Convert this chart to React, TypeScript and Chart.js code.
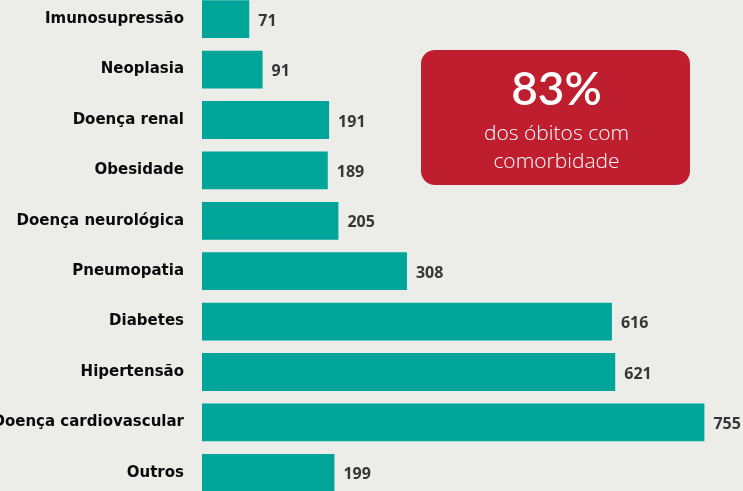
import React, { useEffect, useRef } from "react";
import { Chart, registerables } from "chart.js";

Chart.register(...registerables);

const categories = [
  "Imunosupressão",
  "Neoplasia",
  "Doença renal",
  "Obesidade",
  "Doença neurológica",
  "Pneumopatia",
  "Diabetes",
  "Hipertensão",
  "Doença cardiovascular",
  "Outros",
];
const values = [71, 91, 191, 189, 205, 308, 616, 621, 755, 199];
const boxTitle = "83%";
const boxLines = ["dos óbitos com", "comorbidade"];

const valueLabels = {
  id: "valueLabels",
  afterDatasetsDraw(chart: any) {
    const ctx = chart.ctx;
    const meta = chart.getDatasetMeta(0);
    ctx.save();
    ctx.fillStyle = "#363636";
    ctx.font = "bold 16px 'Open Sans'";
    ctx.textAlign = "left";
    ctx.textBaseline = "middle";
    meta.data.forEach((bar: any, i: number) => {
      ctx.fillText(String(values[i]), bar.x + 9, bar.y + 2);
    });
    ctx.restore();
  },
};

const infoBox = {
  id: "infoBox",
  afterDraw(chart: any) {
    const ctx = chart.ctx;
    const x = 421, y = 56, w = 269, h = 135, r = 14;
    ctx.save();
    ctx.fillStyle = "#be1e2e";
    ctx.beginPath();
    ctx.roundRect(x, y, w, h, r);
    ctx.fill();
    ctx.fillStyle = "#ffffff";
    ctx.textAlign = "center";
    ctx.textBaseline = "alphabetic";
    ctx.font = "600 46px Lato";
    ctx.fillText(boxTitle, x + w / 2 + 1, y + 55);
    ctx.font = "300 21px 'Open Sans'";
    ctx.fillText(boxLines[0], x + w / 2 + 1, y + 90);
    ctx.fillText(boxLines[1], x + w / 2 + 1, y + 118);
    ctx.restore();
  },
};

export default function App() {
  const ref = useRef<HTMLCanvasElement>(null);
  useEffect(() => {
    if (!ref.current) return;
    const chart = new Chart(ref.current, {
      type: "bar",
      data: {
        labels: categories,
        datasets: [
          {
            data: values,
            backgroundColor: "#00a59a",
            borderWidth: 0,
            barPercentage: 0.75,
            categoryPercentage: 1,
          },
        ],
      },
      options: {
        indexAxis: "y",
        animation: false,
        responsive: false,
        maintainAspectRatio: false,
        layout: { padding: 0 },
        plugins: { legend: { display: false }, tooltip: { enabled: false } },
        scales: {
          x: { display: false, min: 0, max: 813 },
          y: {
            afterFit(scale: any) {
              scale.width = 202;
              scale.paddingTop = 0;
              scale.paddingBottom = 0;
            },
            grid: { display: false },
            border: { display: false },
            ticks: {
              color: "#0a0a0a",
              font: { family: "'DejaVu Sans'", weight: "bold", size: 15 },
              padding: 10,
            },
          },
        },
      },
      plugins: [valueLabels, infoBox],
    });
    return () => chart.destroy();
  }, []);
  return (
    <div
      style={{
        position: "fixed",
        left: 0,
        top: 0,
        width: 743,
        height: 491,
        overflow: "hidden",
        background: "#ecece9",
      }}
    >
      <canvas
        ref={ref}
        width={743}
        height={504}
        style={{ position: "absolute", left: 0, top: -6, width: 743, height: 504 }}
      />
    </div>
  );
}
